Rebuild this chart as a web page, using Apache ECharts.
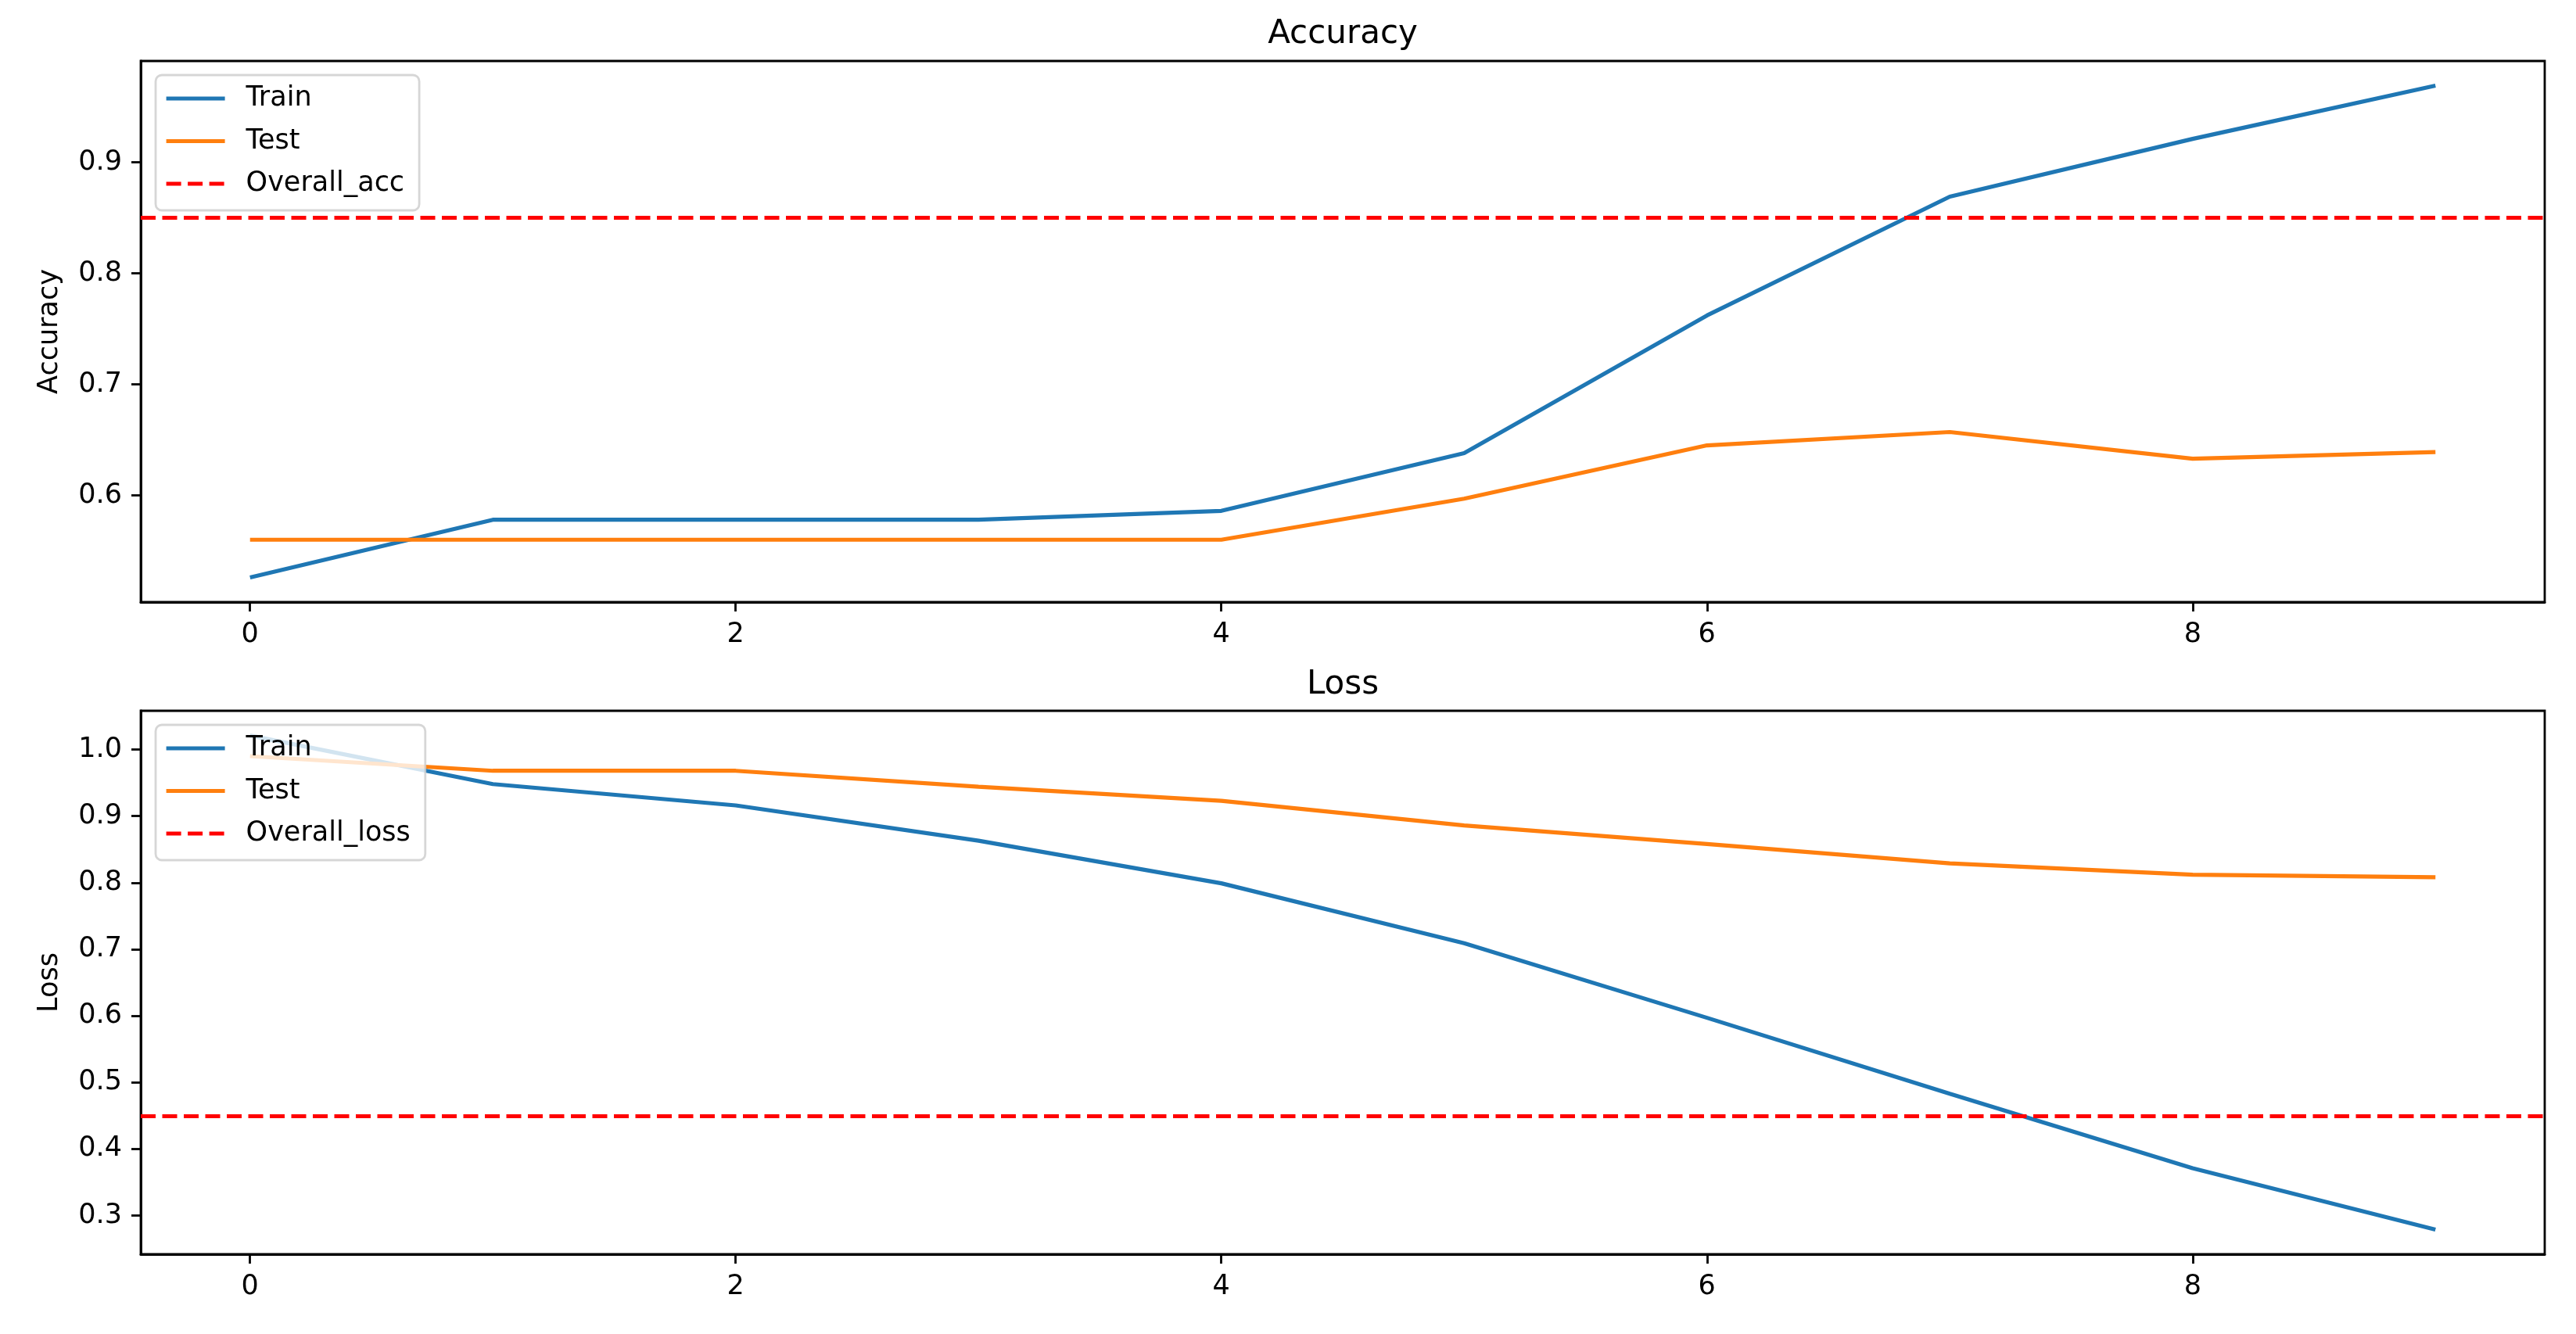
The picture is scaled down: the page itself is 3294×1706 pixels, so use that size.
<!DOCTYPE html>
<html>
<head>
<meta charset="utf-8">
<script src="https://cdn.jsdelivr.net/npm/echarts@6/dist/echarts.min.js"></script>
<style>
html,body{margin:0;padding:0;background:#fff;}
#chart{width:3294px;height:1706px;}
</style>
</head>
<body>
<div id="chart"></div>
<script>
// ---- data ----
const epochs = [0, 1, 2, 3, 4, 5, 6, 7, 8, 9];
const trainAcc = [0.526, 0.578, 0.578, 0.578, 0.586, 0.638, 0.762, 0.869, 0.921, 0.969];
const testAcc = [0.560, 0.560, 0.560, 0.560, 0.560, 0.597, 0.645, 0.657, 0.633, 0.639];
const overallAcc = 0.852;
const trainLoss = [1.021, 0.948, 0.916, 0.863, 0.799, 0.709, 0.597, 0.483, 0.371, 0.279];
const testLoss = [0.990, 0.968, 0.968, 0.944, 0.923, 0.886, 0.858, 0.829, 0.812, 0.808];
const overallLoss = 0.451;
const xTicks = [0, 2, 4, 6, 8];
const accTicks = [0.6, 0.7, 0.8, 0.9];
const lossTicks = [0.3, 0.4, 0.5, 0.6, 0.7, 0.8, 0.9, 1.0];
const titles = ['Accuracy', 'Loss'];
const yNames = ['Accuracy', 'Loss'];
const legendNames = [['Train', 'Test', 'Overall_acc'], ['Train', 'Test', 'Overall_loss']];

// ---- helpers ----
const FONT = 'DejaVu Sans';
const BLUE = '#1f77b4', ORANGE = '#ff7f0e', RED = '#ff0000';
const LW = 5.2;
function pairs(ys) { return epochs.map((e, i) => [e, ys[i]]); }
function margins(arrs) {
  const all = [].concat(...arrs);
  const lo = Math.min(...all), hi = Math.max(...all);
  const pad = (hi - lo) * 0.05;
  return [lo - pad, hi + pad];
}
const xPad = (epochs[epochs.length - 1] - epochs[0]) * 0.05;
const accRange = margins([trainAcc, testAcc]);
const lossRange = margins([trainLoss, testLoss]);

const grids = [
  { left: 180, top: 78, width: 3074, height: 692 },
  { left: 180, top: 909, width: 3074, height: 695 }
];

function xAxis(idx) {
  return {
    type: 'value', gridIndex: idx,
    min: epochs[0] - xPad, max: epochs[epochs.length - 1] + xPad,
    splitLine: { show: false },
    axisLine: { show: true, onZero: false, lineStyle: { color: '#000', width: 2.8 } },
    axisTick: { show: true, customValues: xTicks, length: 12, inside: false, lineStyle: { color: '#000', width: 2.8 } },
    axisLabel: { show: true, customValues: xTicks, margin: 24, fontFamily: FONT, fontSize: 35, color: '#000',
      formatter: v => String(v) }
  };
}
function yAxis(idx, range, ticks, name) {
  return {
    type: 'value', gridIndex: idx, min: range[0], max: range[1],
    name: name, nameLocation: 'middle', nameGap: 99,
    nameTextStyle: { fontFamily: FONT, fontSize: 35, color: '#000' },
    splitLine: { show: false },
    axisLine: { show: true, onZero: false, lineStyle: { color: '#000', width: 2.8 } },
    axisTick: { show: true, customValues: ticks, length: 12, inside: false, lineStyle: { color: '#000', width: 2.8 } },
    axisLabel: { show: true, customValues: ticks, margin: 24, fontFamily: FONT, fontSize: 35, color: '#000',
      formatter: v => v.toFixed(1) }
  };
}
function lineSeries(name, idx, ys, color) {
  return {
    type: 'line', name: name, xAxisIndex: idx, yAxisIndex: idx,
    data: pairs(ys), symbol: 'none', showSymbol: false,
    lineStyle: { color: color, width: LW }, itemStyle: { color: color },
    z: 2
  };
}
function refSeries(name, idx, value) {
  return {
    type: 'line', name: name, xAxisIndex: idx, yAxisIndex: idx,
    data: [], symbol: 'none', showSymbol: false,
    lineStyle: { color: RED, width: LW, type: [19, 8.5] }, itemStyle: { color: RED },
    markLine: {
      silent: true, symbol: ['none', 'none'], label: { show: false },
      lineStyle: { color: RED, width: LW, type: [19, 8.5] },
      emphasis: { disabled: true },
      data: [{ yAxis: value }]
    },
    z: 3
  };
}
function legend(idx, top) {
  return {
    orient: 'vertical', left: 199, top: top,
    data: legendNames[idx],
    itemWidth: 75, itemHeight: 35, itemGap: 19.5,
    padding: [12.5, 19, 16.5, 11],
    backgroundColor: 'rgba(255,255,255,0.8)',
    borderColor: 'rgba(204,204,204,0.8)', borderWidth: 2.8, borderRadius: 8,
    lineStyle: { width: LW },
    itemStyle: { opacity: 0 },
    textStyle: { fontFamily: FONT, fontSize: 35, color: '#000', padding: [0, 0, 0, 22] },
    selectedMode: false, z: 10
  };
}

const option = {
  animation: false,
  backgroundColor: '#fff',
  title: [
    { text: titles[0], left: 1717, top: 23, textAlign: 'center', padding: 0,
      textStyle: { fontFamily: FONT, fontSize: 42, fontWeight: 'normal', color: '#000' } },
    { text: titles[1], left: 1717, top: 855, textAlign: 'center', padding: 0,
      textStyle: { fontFamily: FONT, fontSize: 42, fontWeight: 'normal', color: '#000' } }
  ],
  grid: grids.map(g => Object.assign({ show: true, borderColor: '#000', borderWidth: 2.8, backgroundColor: 'transparent', containLabel: false }, g)),
  xAxis: [xAxis(0), xAxis(1)],
  yAxis: [yAxis(0, accRange, accTicks, yNames[0]), yAxis(1, lossRange, lossTicks, yNames[1])],
  legend: [legend(0, 96), legend(1, 927)],
  series: [
    lineSeries('Train', 0, trainAcc, BLUE),
    lineSeries('Test', 0, testAcc, ORANGE),
    refSeries('Overall_acc', 0, overallAcc),
    lineSeries('Train', 1, trainLoss, BLUE),
    lineSeries('Test', 1, testLoss, ORANGE),
    refSeries('Overall_loss', 1, overallLoss)
  ]
};
const chart = echarts.init(document.getElementById('chart'), null, { renderer: 'canvas' });
chart.setOption(option);
</script>
</body>
</html>
